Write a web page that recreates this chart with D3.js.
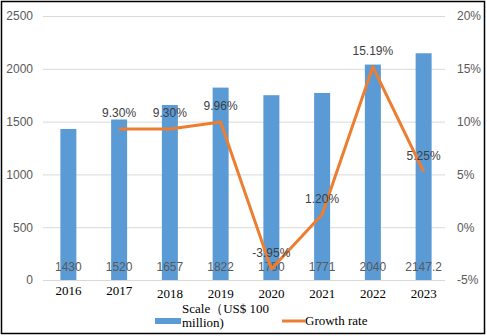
<!DOCTYPE html>
<html><head><meta charset="utf-8">
<script src="https://cdn.jsdelivr.net/npm/d3@7"></script>
<style>body{margin:0;background:#fff}svg{display:block}</style>
</head><body><svg id="c" width="487" height="336"></svg>
<script>
const years = ["2016","2017","2018","2019","2020","2021","2022","2023"];
const scale = [1430,1520,1657,1822,1750,1771,2040,2147.2];
const scaleLabels = ["1430","1520","1657","1822","1750","1771","2040","2147.2"];
const growth = [null,9.30,9.30,9.96,-3.95,1.20,15.19,5.25];
const growthLabels = [null,"9.30%","9.30%","9.96%","-3.95%","1.20%","15.19%","5.25%"];
const leftTicks = [0,500,1000,1500,2000,2500];
const rightTicks = [-5,0,5,10,15,20];

const svg = d3.select("#c");
svg.append("rect").attr("x",1.5).attr("y",1.5).attr("width",483).attr("height",332)
  .attr("fill","#fff").attr("stroke","#000").attr("stroke-width",1.5);

const x = d3.scaleBand().domain(years).range([43,449]).paddingInner(0).paddingOuter(0);
const yL = d3.scaleLinear().domain([0,2500]).range([280,16]);
const yR = d3.scaleLinear().domain([-5,20]).range([280,16]);

const sans = "'Liberation Sans', Arial, sans-serif";
const serif = "'Liberation Serif', 'Times New Roman', serif";

// gridlines
svg.append("g").selectAll("line").data(leftTicks).join("line")
  .attr("x1",43).attr("x2",445).attr("y1",d=>yL(d)+0.5).attr("y2",d=>yL(d)+0.5)
  .attr("stroke","#d9d9d9").attr("stroke-width",1);

// left axis
const gl = svg.append("g").attr("transform","translate(43,0)")
  .call(d3.axisLeft(yL).tickValues(leftTicks).tickSize(0).tickPadding(10).tickFormat(d3.format("d")));
gl.select(".domain").remove();
gl.selectAll("text").attr("fill","#595959").attr("font-family",sans).attr("font-size",12);

// right axis
const gr = svg.append("g").attr("transform","translate(449,0)")
  .call(d3.axisRight(yR).tickValues(rightTicks).tickSize(0).tickPadding(8).tickFormat(d=>d+"%"));
gr.select(".domain").remove();
gr.selectAll("text").attr("fill","#595959").attr("font-family",sans).attr("font-size",12);

// bars
const bw = 16;
svg.append("g").selectAll("rect").data(years).join("rect")
  .attr("x",(d)=>x(d)+x.bandwidth()/2-bw/2).attr("width",bw)
  .attr("y",(d,i)=>yL(scale[i])).attr("height",(d,i)=>yL(0)-yL(scale[i]))
  .attr("fill","#5b9bd5");

// bar labels
svg.append("g").selectAll("text").data(years).join("text")
  .attr("x",d=>x(d)+x.bandwidth()/2).attr("y",271)
  .attr("text-anchor","middle").attr("fill","#595959")
  .attr("font-family",sans).attr("font-size",12)
  .text((d,i)=>scaleLabels[i]);

// x labels
svg.append("g").selectAll("text").data(years).join("text")
  .attr("x",d=>x(d)+x.bandwidth()/2).attr("y",(d,i)=>i<2?295:298)
  .attr("text-anchor","middle").attr("fill","#000")
  .attr("font-family",serif).attr("font-size",13)
  .text(d=>d);

// growth line
const pts = years.map((d,i)=>({d,v:growth[i],l:growthLabels[i]})).filter(p=>p.v!==null);
const line = d3.line().x(p=>x(p.d)+x.bandwidth()/2).y(p=>yR(p.v));
svg.append("path").datum(pts).attr("d",line).attr("fill","none")
  .attr("stroke","#ed7d31").attr("stroke-width",3).attr("stroke-linejoin","round");

svg.append("g").selectAll("text").data(pts).join("text")
  .attr("x",p=>x(p.d)+x.bandwidth()/2).attr("y",p=>yR(p.v)-12)
  .attr("text-anchor","middle").attr("fill","#404040")
  .attr("font-family",sans).attr("font-size",12)
  .text(p=>p.l);

// legend
const lg = svg.append("g");
lg.append("rect").attr("x",155).attr("y",318).attr("width",26).attr("height",6).attr("fill","#5b9bd5");
lg.append("text").attr("x",182).attr("y",313).attr("font-family",serif).attr("font-size",13).attr("fill","#000").text("Scale（US$ 100");
lg.append("text").attr("x",182).attr("y",327).attr("font-family",serif).attr("font-size",13).attr("fill","#000").text("million)");
lg.append("line").attr("x1",282).attr("x2",305).attr("y1",321).attr("y2",321).attr("stroke","#ed7d31").attr("stroke-width",3);
lg.append("text").attr("x",305).attr("y",325).attr("font-family",serif).attr("font-size",13).attr("fill","#000").text("Growth rate");
</script></body></html>
